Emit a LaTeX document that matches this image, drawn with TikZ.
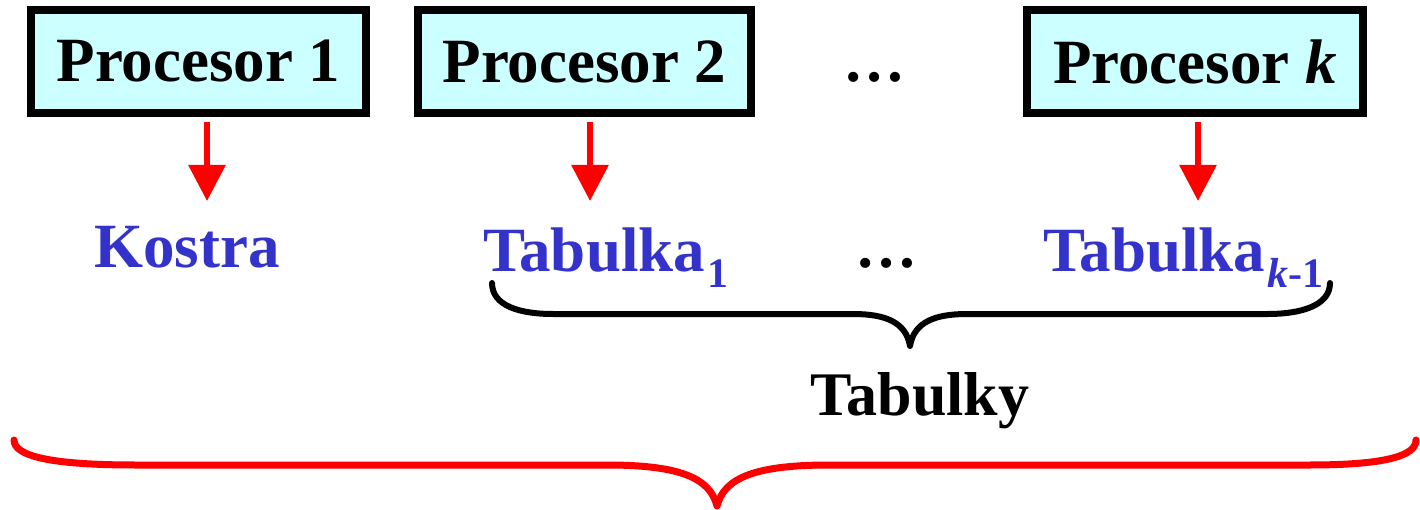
\documentclass[tikz,border=0pt]{standalone}
\usepackage{fontspec}
\setmainfont{Liberation Serif}
\usetikzlibrary{arrows.meta}
\definecolor{boxfill}{HTML}{CCFFFF}
\definecolor{txtblue}{HTML}{3333CC}
\definecolor{arrred}{HTML}{FF0000}
\tikzset{
  procbox/.style={draw=black, line width=8pt, fill=boxfill, minimum height=103pt,
    inner sep=0pt, font=\fontsize{63}{70}\selectfont\bfseries},
  bluetxt/.style={text=txtblue, inner sep=0pt, font=\fontsize{63}{70}\selectfont\bfseries},
  blacktxt/.style={text=black, inner sep=0pt, font=\fontsize{62}{70}\selectfont\bfseries},
  redarr/.style={draw=arrred, line width=6pt, -{Triangle[width=36pt,length=36pt]}},
  bracepath/.style={line width=6pt, line cap=round, line join=round},
}
\newcommand{\subsz}{\fontsize{42}{44}\selectfont}
\begin{document}
\begin{tikzpicture}[x=1pt,y=-1pt]
\useasboundingbox (0,0) rectangle (1420,510);
% boxes
\node[procbox, minimum width=335pt] (p1) at (198.5,61.5) {Procesor 1};
\node[procbox, minimum width=333pt] (p2) at (584.5,61.5) {Procesor 2};
\node[procbox, minimum width=336pt] (pk) at (1195,61.5) {Procesor \textit{k}};
\node[blacktxt, anchor=base] (dtop) at (874,82) {\dots};
% lower texts
\node[bluetxt, anchor=base] (kostra) at (187,268) {Kostra};
\node[bluetxt, anchor=base west] (tab1) at (483,272) {Tabulka\kern2pt\raisebox{-16pt}{\subsz 1}};
\node[blacktxt, anchor=base] (dmid) at (886,268) {\dots};
\node[bluetxt, anchor=base west] (tabk) at (1043,272) {Tabulka\kern2pt\raisebox{-16pt}{\subsz\textit{k}-1}};
\node[blacktxt, anchor=base] (tabulky) at (920,415) {Tabulky};
% arrows
\coordinate (a1s) at (207,122); \coordinate (a1e) at (207,201);
\coordinate (a2s) at (590,122); \coordinate (a2e) at (590,201);
\coordinate (aks) at (1198,122); \coordinate (ake) at (1198,201);
\draw[redarr] (a1s) -- (a1e);
\draw[redarr] (a2s) -- (a2e);
\draw[redarr] (aks) -- (ake);
% black brace
\coordinate (bbl) at (492,283); \coordinate (bbt) at (910,346); \coordinate (bbr) at (1330,283);
\draw[bracepath, draw=black] (bbl) .. controls (492,306) and (520,314) .. (553,314) -- (853,314)
  .. controls (885,314) and (906,322) .. (bbt)
  .. controls (914,322) and (935,314) .. (967,314) -- (1268,314)
  .. controls (1300,314) and (1330,306) .. (bbr);
% red brace
\coordinate (rbl) at (14,440); \coordinate (rbt) at (717,506); \coordinate (rbr) at (1416,440);
\draw[bracepath, draw=arrred, line width=7pt] (rbl) .. controls (14,456) and (50,465) .. (136,465) -- (607,465)
  .. controls (680,465) and (710,478) .. (rbt)
  .. controls (724,478) and (755,465) .. (829,465) -- (1309,465)
  .. controls (1385,465) and (1416,456) .. (rbr);
\end{tikzpicture}
\end{document}
